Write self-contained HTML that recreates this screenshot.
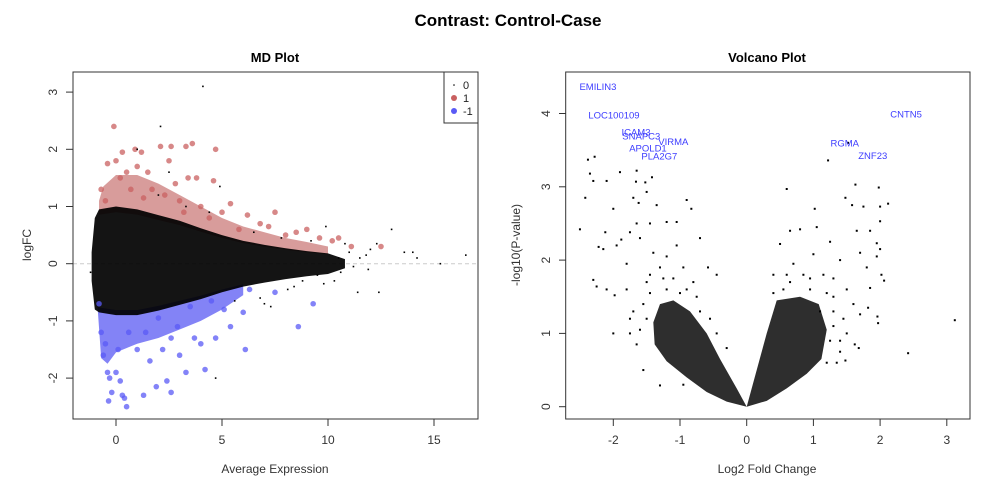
<!DOCTYPE html>
<html><head><meta charset="utf-8"><style>
body{margin:0;background:#fff;width:996px;height:485px;overflow:hidden;font-family:"Liberation Sans",sans-serif}
svg text{font-family:"Liberation Sans",sans-serif}
</style></head><body>
<svg id="chart" width="996" height="485">
<text x="508" y="26" text-anchor="middle" font-size="17" font-weight="bold" fill="#000">Contrast: Control-Case</text>
<g id="md"></g>
<g id="vol"></g>
</svg>
<script>
// MD plot data
const mdEnvX=[-1.15,-1.0,-0.8,0,1,2,3,4,5,6,7,8,9,10,10.8];
const mdEnvUp=[0.2,0.8,0.95,1.0,0.95,0.85,0.75,0.62,0.5,0.4,0.33,0.27,0.22,0.18,0.08];
const mdEnvLo=[-0.3,-0.8,-0.85,-0.9,-0.9,-0.82,-0.72,-0.62,-0.5,-0.4,-0.33,-0.27,-0.22,-0.18,-0.08];
const mdRedX=[-0.8,-0.6,0,1,2,3,4,5,6,7,8,9,10];
const mdRedUp=[1.1,1.35,1.55,1.55,1.4,1.2,1.0,0.8,0.65,0.55,0.45,0.38,0.3];
const mdBlueX=[-0.9,-0.7,-0.4,0,1,2,3,4,5,6];
const mdBlueLo=[-0.6,-1.65,-1.75,-1.55,-1.4,-1.3,-1.15,-1.0,-0.8,-0.55];
const mdRedPts=[[-0.1,2.4],[0.3,1.95],[0.9,2.0],[1.2,1.95],[2.1,2.05],[2.6,2.05],[3.3,2.05],[3.6,2.1],[4.7,2.0],[2.5,1.8],[0.5,1.6],[1.0,1.7],[1.5,1.6],[0.2,1.5],[2.8,1.4],[3.4,1.5],[4.6,1.45],[3.8,1.5],[0.7,1.3],[1.7,1.3],[2.3,1.2],[3.0,1.1],[4.0,1.0],[5.4,1.05],[6.2,0.85],[7.5,0.9],[5.0,0.9],[6.8,0.7],[7.2,0.65],[8.5,0.55],[9.0,0.6],[9.6,0.45],[10.2,0.4],[10.5,0.45],[11.1,0.3],[12.5,0.3],[-0.7,1.3],[-0.5,1.1],[4.4,0.8],[5.8,0.6],[8.0,0.5],[3.2,0.9],[1.3,1.15],[-0.4,1.75],[0.0,1.8]];
const mdBluePts=[[-0.8,-0.7],[-0.7,-1.2],[-0.6,-1.6],[-0.4,-1.9],[-0.3,-2.0],[0,-1.9],[-0.2,-2.25],[0.3,-2.3],[0.5,-2.5],[0.2,-2.05],[1.3,-2.3],[1.9,-2.15],[2.4,-2.05],[2.6,-2.25],[3.3,-1.9],[4.2,-1.85],[3.0,-1.6],[2.2,-1.5],[1.0,-1.5],[1.6,-1.7],[4.0,-1.4],[6.1,-1.5],[3.7,-1.3],[2.9,-1.1],[4.7,-1.3],[5.4,-1.1],[8.6,-1.1],[9.3,-0.7],[7.5,-0.5],[6.0,-0.85],[5.1,-0.8],[3.5,-0.75],[4.5,-0.65],[6.3,-0.45],[2.0,-0.95],[0.6,-1.2],[-0.5,-1.4],[0.1,-1.5],[1.4,-1.2],[2.6,-1.3],[0.4,-2.35],[-0.35,-2.4]];
const mdBlackPts=[[4.1,3.1],[2.1,2.4],[4.9,1.35],[9.9,0.65],[13.0,0.6],[14.0,0.2],[13.6,0.2],[16.5,0.15],[15.3,0.0],[12.3,0.35],[11.5,0.1],[11.4,-0.5],[11.9,-0.1],[12.4,-0.5],[10.3,-0.3],[8.1,-0.45],[8.8,-0.3],[4.7,-2.0],[-1.2,-0.15],[2.5,1.6],[1.0,2.0],[12.0,0.25],[11.0,0.2],[10.6,-0.15],[14.2,0.1],[7.0,-0.7],[7.3,-0.75],[9.5,-0.2],[10.8,0.35],[11.2,-0.05],[10.5,0.1],[11.8,0.15],[9.8,-0.35],[9.2,0.4],[8.4,-0.4],[7.8,0.45],[6.5,0.55],[6.8,-0.6],[5.6,-0.65],[4.4,0.9],[3.3,1.0],[2.0,1.2]];
const mdXTicks=[0,5,10,15];
const mdYTicks=[-2,-1,0,1,2,3];
// Volcano data
const volLeftPoly=[[0,0],[-0.3,0.07],[-0.6,0.2],[-0.9,0.4],[-1.2,0.62],[-1.38,0.85],[-1.4,1.15],[-1.3,1.4],[-1.1,1.45],[-0.85,1.3],[-0.6,1.0],[-0.4,0.65],[-0.15,0.25]];
const volRightPoly=[[0,0],[0.3,0.08],[0.6,0.25],[0.9,0.45],[1.12,0.65],[1.2,1.05],[1.08,1.4],[0.8,1.5],[0.45,1.45],[0.3,1.0],[0.12,0.4]];
const volPts=[[-2.5,2.42],[-2.42,2.85],[-2.38,3.37],[-2.35,3.18],[-2.28,3.41],[-2.3,3.08],[-2.1,3.08],[-2.0,2.7],[-1.9,3.2],[-1.65,3.22],[-1.66,3.07],[-1.52,3.06],[-1.42,3.13],[-1.5,2.93],[-1.7,2.85],[-1.62,2.78],[-1.35,2.75],[-2.12,2.38],[-2.22,2.18],[-2.15,2.15],[-1.95,2.2],[-1.88,2.28],[-2.3,1.73],[-2.25,1.64],[-2.1,1.6],[-1.98,1.52],[-1.8,1.95],[-1.75,2.38],[-1.65,2.5],[-1.45,2.5],[-1.2,2.52],[-1.05,2.52],[-0.9,2.82],[-0.83,2.7],[-0.7,2.3],[-0.58,1.9],[-0.45,1.8],[-0.3,0.8],[-2.0,1.0],[-1.75,1.0],[-1.65,0.85],[-1.55,0.5],[-1.3,0.29],[-0.95,0.3],[-1.05,2.2],[-1.4,2.1],[-1.6,2.3],[-1.8,1.6],[-1.7,1.3],[-1.55,1.4],[-1.5,1.7],[-1.3,1.9],[-1.1,1.75],[-0.9,1.6],[-1.2,2.05],[-1.75,1.2],[-1.45,1.8],[-1.5,1.2],[-1.45,1.55],[-1.2,1.6],[-1.0,1.55],[-0.75,1.5],[-0.7,1.3],[-0.55,1.2],[-0.45,1.0],[-1.6,1.05],[-1.25,1.75],[-0.95,1.9],[-0.8,1.7],
[0.6,2.97],[1.22,3.36],[1.52,3.6],[1.63,3.03],[1.98,2.99],[1.48,2.85],[1.58,2.75],[1.75,2.73],[2.12,2.77],[2.0,2.73],[2.0,2.53],[1.85,2.4],[1.65,2.4],[1.02,2.7],[1.05,2.45],[0.8,2.42],[0.65,2.4],[0.5,2.22],[1.25,2.25],[1.95,2.23],[2.0,2.15],[1.95,2.05],[1.7,2.1],[1.4,2.0],[2.02,1.8],[2.06,1.72],[1.85,1.62],[1.82,1.35],[1.96,1.23],[1.97,1.14],[1.7,1.26],[1.68,0.8],[1.48,0.63],[1.4,0.9],[1.2,0.6],[1.3,1.1],[2.42,0.73],[3.12,1.18],[1.62,0.85],[1.0,2.08],[0.85,1.8],[0.7,1.95],[1.5,1.6],[1.3,1.5],[0.4,1.8],[0.55,1.6],[1.15,1.8],[0.95,1.6],[1.8,1.9],[1.6,1.4],[1.3,1.75],[1.1,1.3],[1.45,1.2],[0.65,1.7],[1.25,0.9],[1.3,1.3],[1.2,1.55],[0.95,1.75],[0.6,1.8],[0.4,1.55],[1.5,1.0],[1.4,0.75],[1.35,0.6]];
const volLabels=["EMILIN3","LOC100109","ICAM3","SNAPC3","VIRMA","APOLD1","PLA2G7","RGMA","ZNF23","CNTN5"];
const volLabelX=[-2.23,-1.99,-1.66,-1.58,-1.10,-1.48,-1.31,1.47,1.89,2.39];
const volLabelY=[4.37,3.98,3.75,3.69,3.62,3.53,3.42,3.60,3.43,3.99];
const volXTicks=[-2,-1,0,1,2,3];
const volYTicks=[0,1,2,3,4];

const NS="http://www.w3.org/2000/svg";
function mk(parent,tag,attrs){const e=document.createElementNS(NS,tag);for(const k in attrs)e.setAttribute(k,attrs[k]);parent.appendChild(e);return e;}

// MD axes
const mdX=v=>116+v*21.2, mdY=v=>263.7-v*57.2;
const md=document.getElementById('md');
let t=mk(md,'text',{x:275,y:62,'text-anchor':'middle','font-size':13,'font-weight':'bold'});t.textContent='MD Plot';

let ln=mk(md,'line',{x1:73,x2:478,y1:mdY(0),y2:mdY(0),stroke:'#ccc','stroke-dasharray':'4,3'});

function envAt(arr,x){for(let i=0;i<mdEnvX.length-1;i++){if(x>=mdEnvX[i]&&x<=mdEnvX[i+1]){const f=(x-mdEnvX[i])/(mdEnvX[i+1]-mdEnvX[i]);return arr[i]+f*(arr[i+1]-arr[i]);}}return 0;}
let rp=mdRedX.map((x,i)=>mdX(x)+','+mdY(mdRedUp[i])).concat(mdRedX.slice().reverse().map(x=>mdX(x)+','+mdY(envAt(mdEnvUp,x)*0.9)));
let e=mk(md,'polygon',{points:rp.join(' '),fill:'#b84a48',opacity:0.55});

let bp=mdBlueX.map((x,i)=>mdX(x)+','+mdY(mdBlueLo[i])).concat(mdBlueX.slice().reverse().map(x=>mdX(x)+','+mdY(envAt(mdEnvLo,x)*0.9)));
e=mk(md,'polygon',{points:bp.join(' '),fill:'#3030f0',opacity:0.6});

let cp=mdEnvX.map((x,i)=>mdX(x)+','+mdY(mdEnvUp[i])).concat(mdEnvX.slice().reverse().map(x=>{const i=mdEnvX.indexOf(x);return mdX(x)+','+mdY(mdEnvLo[i])}));
e=mk(md,'polygon',{points:cp.join(' '),fill:'#000',opacity:0.92});

mdRedPts.forEach(p=>{const c=mk(md,'circle',{cx:mdX(p[0]),cy:mdY(p[1]),r:2.8,fill:'#c96060',opacity:0.75});
});
mdBluePts.forEach(p=>{const c=mk(md,'circle',{cx:mdX(p[0]),cy:mdY(p[1]),r:2.8,fill:'#5a5af5',opacity:0.75});
});
mdBlackPts.forEach(p=>{const c=mk(md,'rect',{x:mdX(p[0])-0.8,y:mdY(p[1])-0.8,width:1.6,height:1.6,fill:'#000'});
});
e=mk(md,'rect',{x:73,y:72,width:405,height:347,fill:'none',stroke:'#333'});

mdXTicks.forEach(v=>{mk(md,'line',{x1:mdX(v),x2:mdX(v),y1:419,y2:426,stroke:'#333'});
const l=mk(md,'text',{x:mdX(v),y:444,'text-anchor':'middle','font-size':12,fill:'#333'});l.textContent=v;
});
mdYTicks.forEach(v=>{mk(md,'line',{x1:66,x2:73,y1:mdY(v),y2:mdY(v),stroke:'#333'});
const l=mk(md,'text',{x:0,y:0,'text-anchor':'middle','font-size':12,fill:'#333',transform:`translate(57,${mdY(v)}) rotate(-90)`});l.textContent=v;
});
t=mk(md,'text',{x:275,y:473,'text-anchor':'middle','font-size':12,fill:'#333'});t.textContent='Average Expression';

t=mk(md,'text',{x:0,y:0,'text-anchor':'middle','font-size':12,fill:'#333',transform:'translate(31,245) rotate(-90)'});t.textContent='logFC';

// legend
const lg=mk(md,'g',{});

mk(lg,'rect',{x:444,y:72,width:34,height:51,fill:'#fff',stroke:'#333'});
[['0','#000',0.8],['1','#c96060',3],['-1','#5a5af5',3]].forEach((d,i)=>{
const c=mk(lg,'circle',{cx:454,cy:85+i*13,r:d[2],fill:d[1]});

const l=mk(lg,'text',{x:463,y:89+i*13,'font-size':11,fill:'#222'});l.textContent=d[0];
});

// Volcano
const vX=v=>746.7+v*66.7, vY=v=>406.7-v*73.3;
const vol=document.getElementById('vol');
t=mk(vol,'text',{x:767,y:62,'text-anchor':'middle','font-size':13,'font-weight':'bold'});t.textContent='Volcano Plot';

e=mk(vol,'polygon',{points:volLeftPoly.map(p=>vX(p[0])+','+vY(p[1])).join(' '),fill:'#000',opacity:0.82});

e=mk(vol,'polygon',{points:volRightPoly.map(p=>vX(p[0])+','+vY(p[1])).join(' '),fill:'#000',opacity:0.82});

volPts.forEach(p=>{const c=mk(vol,'rect',{x:vX(p[0])-1,y:vY(p[1])-1,width:2,height:2,fill:'#000'});
});
volLabels.forEach((s,i)=>{const l=mk(vol,'text',{x:vX(volLabelX[i]),y:vY(volLabelY[i])+3.5,'text-anchor':'middle','font-size':9.5,fill:'#3c3cff'});l.textContent=s;
});
e=mk(vol,'rect',{x:565.7,y:72,width:404.3,height:347,fill:'none',stroke:'#333'});

volXTicks.forEach(v=>{mk(vol,'line',{x1:vX(v),x2:vX(v),y1:419,y2:426,stroke:'#333'});
const l=mk(vol,'text',{x:vX(v),y:444,'text-anchor':'middle','font-size':12,fill:'#333'});l.textContent=v;
});
volYTicks.forEach(v=>{mk(vol,'line',{x1:559,x2:565.7,y1:vY(v),y2:vY(v),stroke:'#333'});
const l=mk(vol,'text',{x:0,y:0,'text-anchor':'middle','font-size':12,fill:'#333',transform:`translate(550,${vY(v)}) rotate(-90)`});l.textContent=v;
});
t=mk(vol,'text',{x:767,y:473,'text-anchor':'middle','font-size':12,fill:'#333'});t.textContent='Log2 Fold Change';

t=mk(vol,'text',{x:0,y:0,'text-anchor':'middle','font-size':12,fill:'#333',transform:'translate(520,245) rotate(-90)'});t.textContent='-log10(P-value)';

</script>
</body></html>
